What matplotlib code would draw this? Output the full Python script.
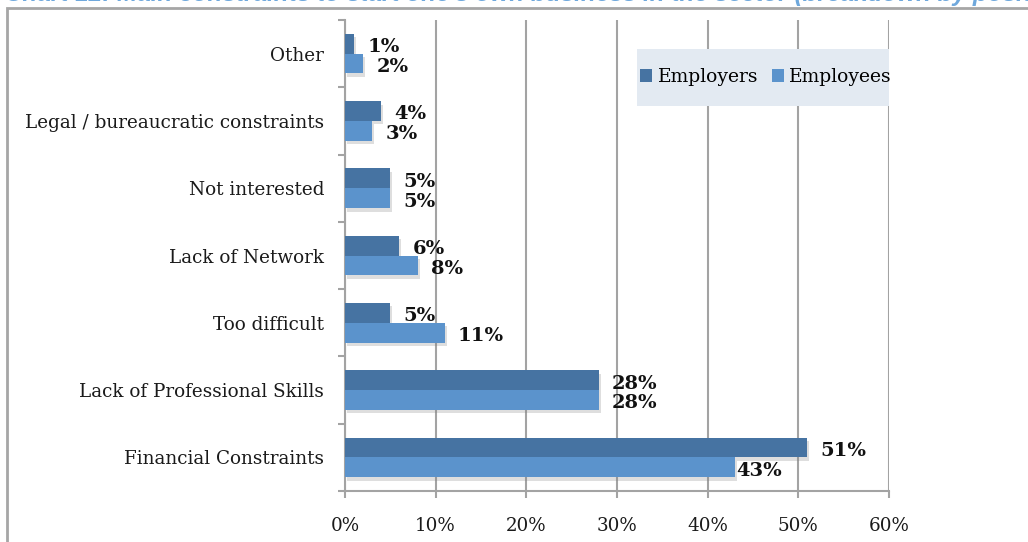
import matplotlib.pyplot as plt
import matplotlib.patheffects as pe
from matplotlib.patches import Rectangle
from matplotlib.ticker import FuncFormatter, MultipleLocator
import numpy as np

categories = ['Financial Constraints', 'Lack of Professional Skills', 'Too difficult',
              'Lack of Network', 'Not interested', 'Legal / bureaucratic constraints', 'Other']
employers = [51, 28, 5, 6, 5, 4, 1]
employees = [43, 28, 11, 8, 5, 3, 2]
series_names = ['Employers', 'Employees']

dark_blue = '#4673A2'
light_blue = '#5B93CC'
grid_grey = '#A3A3A3'
serif = ['DejaVu Serif']

fig = plt.figure(figsize=(10.28, 5.42), dpi=100)
ax = fig.add_axes([345 / 1028, 1 - 491 / 542, 544 / 1028, 471 / 542])

# chart frame around everything (runs off the right and bottom edges)
fig.patches.append(Rectangle((7 / 1028, -0.1), 1.2, 1 - 8 / 542 + 0.1,
                             transform=fig.transFigure, fill=False,
                             edgecolor='#A6A6A6', linewidth=2, zorder=0))

# title sits mostly above the visible area
fig.text(0.005, 1 - 0.5 / 542, "Chart 12: Main constraints to start one's own business in the sector (breakdown by position)",
         color='#6FA8DC', fontsize=17.5, style='italic', family=['Liberation Sans'],
         fontweight='bold', va='baseline', ha='left')

y = np.arange(len(categories))
h = 0.295
shadow = [pe.SimplePatchShadow(offset=(1.5, -2.5), shadow_rgbFace='#7f7f7f', alpha=0.25), pe.Normal()]
bars_er = ax.barh(y + h / 2, employers, height=h, color=dark_blue, label=series_names[0],
                  zorder=3, path_effects=shadow)
bars_ee = ax.barh(y - h / 2, employees, height=h, color=light_blue, label=series_names[1],
                  zorder=3, path_effects=shadow)

# value labels just past the bar ends
nudge = {(1, 0): -8.5}
for s, (vals, off) in enumerate([(employers, h / 2), (employees, -h / 2)]):
    for i, v in enumerate(vals):
        dx = 9.5 + nudge.get((s, i), 0)
        ax.annotate(f'{v}%', (v, y[i] + off), xytext=(dx, -2.5), textcoords='offset points',
                    ha='left', va='center', fontsize=14, fontweight='bold',
                    family=serif, color='#111111', zorder=4)

ax.set_xlim(0, 60)
ax.set_ylim(-0.5, len(categories) - 0.5)
ax.xaxis.set_major_locator(MultipleLocator(10))
ax.xaxis.set_major_formatter(FuncFormatter(lambda v, p: f'{v:.0f}%'))
ax.grid(axis='x', color=grid_grey, linewidth=1.5, zorder=1)

ax.set_yticks(y)
ax.set_yticklabels(categories)
ax.set_yticks(np.arange(-0.5, len(categories)), minor=True)
ax.tick_params(axis='y', which='major', length=0, pad=15)
ax.tick_params(axis='y', which='minor', length=5, color=grid_grey, width=1.5)
ax.tick_params(axis='x', length=5, color=grid_grey, width=1.5, pad=14)
for lab in ax.get_yticklabels() + ax.get_xticklabels():
    lab.set_family(serif)
    lab.set_fontsize(13.2)
    lab.set_color('#1a1a1a')

for side in ['top', 'right']:
    ax.spines[side].set_visible(False)
for side in ['left', 'bottom']:
    ax.spines[side].set_color(grid_grey)
    ax.spines[side].set_linewidth(1.5)

# legend panel
ax.add_patch(Rectangle((292 / 544, 1 - 86 / 471), 252 / 544, 57 / 471, transform=ax.transAxes,
                       facecolor='#E3EAF2', edgecolor='none', zorder=4, clip_on=False))
leg = ax.legend(loc='center', bbox_to_anchor=(421 / 544, 1 - 57 / 471), ncol=2, frameon=False,
                handlelength=0.65, handleheight=0.65, handletextpad=0.3, columnspacing=0.7,
                prop={'family': serif, 'size': 13.5}, borderaxespad=0)
leg.set_zorder(5)
for hnd in leg.legend_handles:
    hnd.set_path_effects([])

fig.savefig('out.png', dpi=100)
